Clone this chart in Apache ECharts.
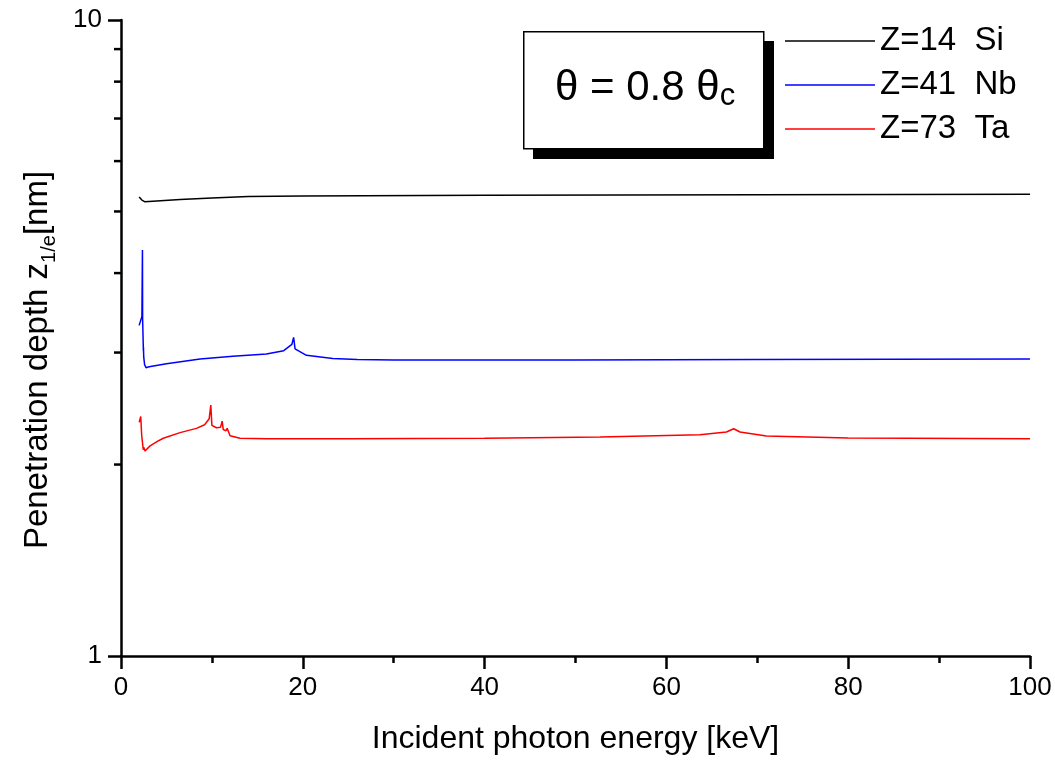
<!DOCTYPE html>
<html>
<head>
<meta charset="utf-8">
<style>
  html, body { margin: 0; padding: 0; background: #fff; }
  #main { width: 1055px; height: 760px; }
</style>
<script src="https://cdn.jsdelivr.net/npm/echarts@6/dist/echarts.min.js"></script>
</head>
<body>
<div id="main"></div>
<script>
// energies [keV] and penetration depths [nm]
var siX = [2.0, 2.3, 2.6, 3.5, 6.5, 10, 14, 20, 40, 70, 100];
var siY = [5.27, 5.21, 5.18, 5.19, 5.22, 5.25, 5.28, 5.29, 5.30, 5.31, 5.32];

var nbX = [2.0, 2.30, 2.36, 2.38, 2.44, 2.46, 2.47, 2.50, 2.6, 2.75, 3.1, 5.0, 8.7, 12.3, 16.0, 17.9, 18.8, 18.99, 19.15, 20.4, 23.3, 26, 30, 50, 70, 100];
var nbY = [3.31, 3.42, 4.35, 3.38, 3.12, 3.02, 3.06, 2.95, 2.87, 2.84, 2.85, 2.88, 2.93, 2.96, 2.985, 3.02, 3.09, 3.17, 3.04, 2.97, 2.935, 2.925, 2.92, 2.92, 2.925, 2.93];

var taX = [2.0, 2.17, 2.28, 2.45, 2.50, 2.64, 3.2, 4.0, 4.65, 6.5, 8.3, 9.2, 9.7, 9.88, 10.0, 10.5, 10.95, 11.13, 11.25, 11.55, 11.68, 12.0, 13.1, 16, 25, 40, 52.7, 63.7, 66.6, 67.4, 68.1, 71, 80, 100];
var taY = [2.33, 2.38, 2.22, 2.11, 2.13, 2.10, 2.14, 2.175, 2.20, 2.245, 2.28, 2.31, 2.36, 2.48, 2.305, 2.285, 2.29, 2.34, 2.27, 2.26, 2.28, 2.22, 2.20, 2.195, 2.195, 2.20, 2.21, 2.228, 2.25, 2.277, 2.25, 2.218, 2.202, 2.196];

var seriesNames = ['Z=14  Si', 'Z=41  Nb', 'Z=73  Ta'];
var seriesColors = ['#000000', '#0000ff', '#ff0000'];
var yMinorTicks = [2, 3, 4, 5, 6, 7, 8, 9];

var FONT = '"Liberation Sans", Arial, sans-serif';

function pairs(xs, ys) {
    var out = [];
    for (var i = 0; i < xs.length; i++) {
        out.push([xs[i], ys[i]]);
    }
    return out;
}

function lineSeries(idx, xs, ys) {
    return {
        name: seriesNames[idx],
        type: 'line',
        data: pairs(xs, ys),
        symbol: 'none',
        color: seriesColors[idx],
        lineStyle: { width: 1.5, color: seriesColors[idx] },
        z: 3
    };
}

var chart = echarts.init(document.getElementById('main'));

var option = {
    backgroundColor: '#fff',
    animation: false,
    textStyle: { fontFamily: FONT, color: '#000' },
    grid: { left: 121, right: 25, top: 20, bottom: 102 },
    legend: {
        data: seriesNames,
        orient: 'vertical',
        left: 785,
        top: 24,
        padding: 0,
        icon: 'rect',
        itemWidth: 90,
        itemHeight: 1.5,
        itemGap: 10,
        textStyle: { fontFamily: FONT, fontSize: 33, lineHeight: 34, color: '#000' }
    },
    xAxis: {
        type: 'value',
        min: 0,
        max: 100,
        interval: 20,
        name: 'Incident photon energy [keV]',
        nameLocation: 'middle',
        nameGap: 67,
        nameTextStyle: { fontFamily: FONT, fontSize: 32, color: '#000' },
        axisLine: { lineStyle: { color: '#000', width: 2.5 } },
        axisTick: { length: 13, lineStyle: { color: '#000', width: 2.5 } },
        minorTick: { show: true, splitNumber: 2, length: 7, lineStyle: { color: '#000', width: 2.5 } },
        axisLabel: { fontFamily: FONT, fontSize: 26, color: '#000', margin: 19 },
        splitLine: { show: false }
    },
    yAxis: {
        type: 'log',
        logBase: 10,
        min: 1,
        max: 10,
        name: '{b|Penetration depth z}{s|1/e}{b|[nm]}',
        nameLocation: 'middle',
        nameRotate: 90,
        nameGap: 62,
        nameTextStyle: {
            fontFamily: FONT,
            color: '#000',
            padding: [0, 44, 0, 0],
            rich: {
                b: { fontFamily: FONT, fontSize: 33, lineHeight: 42, color: '#000' },
                s: { fontFamily: FONT, fontSize: 20, lineHeight: 18, verticalAlign: 'bottom', color: '#000' }
            }
        },
        axisLine: { show: true, lineStyle: { color: '#000', width: 2.5 } },
        axisTick: { length: 13, lineStyle: { color: '#000', width: 2.5 } },
        axisLabel: { fontFamily: FONT, fontSize: 26, color: '#000', margin: 19 },
        splitLine: { show: false }
    },
    graphic: [
        {
            type: 'rect',
            left: 533, top: 41,
            shape: { width: 241, height: 118 },
            style: { fill: '#000' },
            silent: true, z: 10
        },
        {
            type: 'rect',
            left: 523, top: 31,
            shape: { width: 240, height: 117 },
            style: { fill: '#fff', stroke: '#000', lineWidth: 1.5 },
            silent: true, z: 11
        },
        {
            type: 'text',
            left: 555, top: 67,
            style: {
                text: '{a|θ = 0.8 θ}{c|c}',
                fill: '#000',
                rich: {
                    a: { fontFamily: FONT, fontSize: 42, lineHeight: 48, fill: '#000' },
                    c: { fontFamily: FONT, fontSize: 31, lineHeight: 24, verticalAlign: 'bottom', fill: '#000' }
                }
            },
            silent: true, z: 12
        }
    ],
    series: [
        lineSeries(0, siX, siY),
        lineSeries(1, nbX, nbY),
        lineSeries(2, taX, taY),
        {
            // minor ticks of the log axis at 2..9
            type: 'custom',
            silent: true,
            clip: false,
            z: 5,
            data: yMinorTicks.map(function(v) { return [0, v]; }),
            renderItem: function(params, api) {
                var p = api.coord([api.value(0), api.value(1)]);
                return {
                    type: 'line',
                    shape: { x1: p[0] - 7, y1: p[1], x2: p[0], y2: p[1] },
                    style: { stroke: '#000', lineWidth: 2.5 }
                };
            }
        }
    ]
};

chart.setOption(option);
</script>
</body>
</html>
